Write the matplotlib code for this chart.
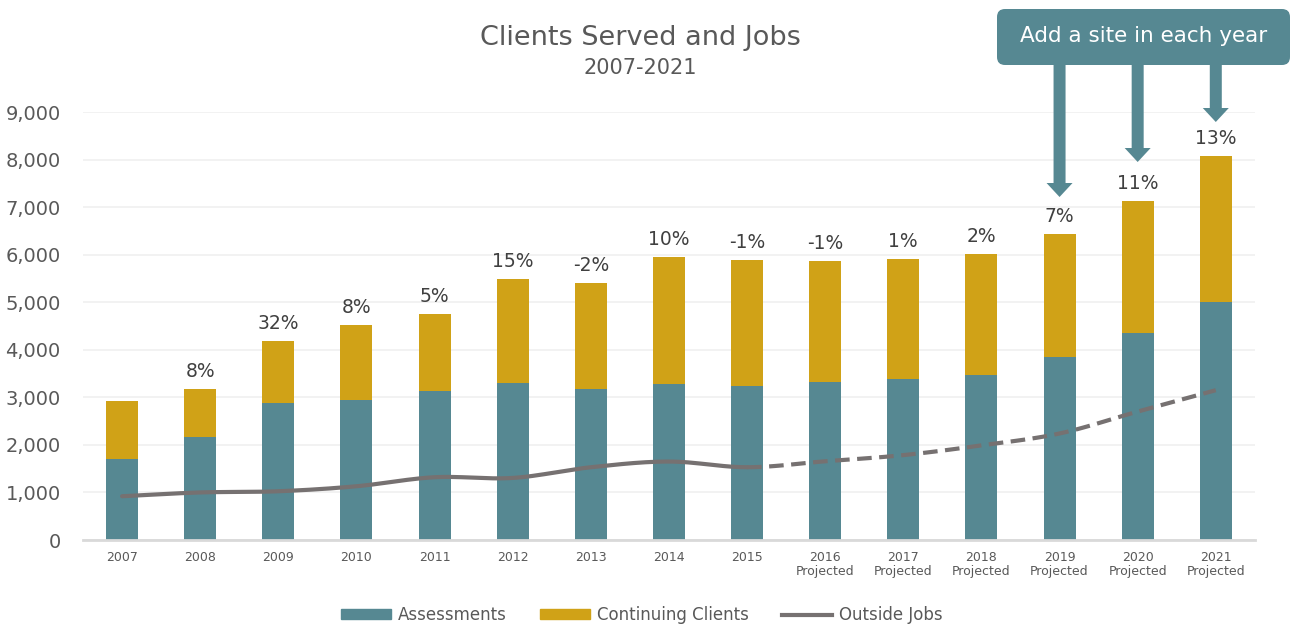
import numpy as np
import matplotlib
matplotlib.use("Agg")
import matplotlib.pyplot as plt
from matplotlib.patches import FancyBboxPatch, FancyArrow
from matplotlib.lines import Line2D
from matplotlib.patches import Patch

plt.rcParams['font.family'] = ['DejaVu Sans']

years = ['2007', '2008', '2009', '2010', '2011', '2012', '2013', '2014', '2015',
         '2016\nProjected', '2017\nProjected', '2018\nProjected', '2019\nProjected',
         '2020\nProjected', '2021\nProjected']
assessments = [1700, 2165, 2880, 2945, 3135, 3300, 3175, 3280, 3240, 3320, 3385, 3470, 3850, 4350, 5005]
totals = [2925, 3175, 4185, 4520, 4750, 5490, 5405, 5950, 5890, 5865, 5910, 6015, 6435, 7130, 8075]
continuing = [t - a for t, a in zip(totals, assessments)]
outside_jobs = [920, 1000, 1025, 1130, 1320, 1305, 1530, 1650, 1530, 1655, 1785, 1990, 2240, 2700, 3150]
pct_labels = ['', '8%', '32%', '8%', '5%', '15%', '-2%', '10%', '-1%', '-1%', '1%', '2%', '7%', '11%', '13%']
last_actual = 8  # index of 2015

teal = '#568892'
gold = '#D0A217'
grey_line = '#767171'
txt = '#595959'

def smooth(xs, ys, n=20):
    # catmull-rom, only for drawing the line smoothly like excel does
    xs = np.asarray(xs, float); ys = np.asarray(ys, float)
    px = np.concatenate([[2 * xs[0] - xs[1]], xs, [2 * xs[-1] - xs[-2]]])
    py = np.concatenate([[2 * ys[0] - ys[1]], ys, [2 * ys[-1] - ys[-2]]])
    ox, oy = [], []
    for i in range(1, len(px) - 2):
        t = np.linspace(0, 1, n, endpoint=False)
        for p, o in ((px, ox), (py, oy)):
            p0, p1, p2, p3 = p[i - 1], p[i], p[i + 1], p[i + 2]
            o.extend(0.5 * (2 * p1 + (-p0 + p2) * t + (2 * p0 - 5 * p1 + 4 * p2 - p3) * t ** 2
                            + (-p0 + 3 * p1 - 3 * p2 + p3) * t ** 3))
    ox.append(xs[-1]); oy.append(ys[-1])
    return np.array(ox), np.array(oy)

fig = plt.figure(figsize=(12.91, 6.25), dpi=100)
ax = fig.add_axes([0.0643, 0.136, 0.9077, 0.6848])

x = np.arange(len(years))
w = 0.41
ax.bar(x, assessments, w, color=teal, zorder=2)
ax.bar(x, continuing, w, bottom=assessments, color=gold, zorder=2)

sx, sy = smooth(x, outside_jobs)
split = np.searchsorted(sx, last_actual)
ax.plot(sx[:split + 1], sy[:split + 1], color=grey_line, lw=3, solid_capstyle='round', zorder=3)
ax.plot(sx[split:], sy[split:], color=grey_line, lw=3, ls=(0, (3.5, 1.8)), zorder=3)

for xi, t, lab in zip(x, totals, pct_labels):
    if lab:
        ax.annotate(lab, (xi, t), xytext=(0, 6), textcoords='offset points',
                    ha='center', va='bottom', fontsize=13.5, color='#404040')

ax.set_xlim(-0.5, len(years) - 0.5)
ax.set_ylim(0, 9000)
ax.set_yticks(np.arange(0, 9001, 1000))
ax.set_yticklabels(['{:,}'.format(v) for v in range(0, 9001, 1000)])
ax.set_xticks(x)
ax.set_xticklabels(years, fontsize=9, color=txt, linespacing=1.1)
ax.tick_params(axis='y', length=0, labelsize=14, labelcolor=txt, pad=16)
ax.tick_params(axis='x', length=0, pad=8)
ax.grid(axis='y', color='#F0F0F0', lw=1.2, zorder=0)
ax.set_axisbelow(True)
for s in ['top', 'right', 'left']:
    ax.spines[s].set_visible(False)
ax.spines['bottom'].set_color('#D9D9D9')
ax.spines['bottom'].set_linewidth(2)

fig.text(0.496, 0.939, 'Clients Served and Jobs', ha='center', va='center', fontsize=19.5, color=txt)
fig.text(0.496, 0.891, '2007-2021', ha='center', va='center', fontsize=15, color=txt)

handles = [Patch(color=teal), Patch(color=gold), Line2D([], [], color=grey_line, lw=3)]
fig.legend(handles, ['Assessments', 'Continuing Clients', 'Outside Jobs'], loc='center',
           bbox_to_anchor=(0.497, 0.016), ncol=3, frameon=False, fontsize=12,
           handlelength=3.0, handleheight=0.5, columnspacing=2.0, handletextpad=0.4,
           labelcolor=txt)

# callout box + arrows (pixel coordinates, origin bottom-left)
H = 625
box = FancyBboxPatch((997, H - 65), 293, 56, boxstyle='round,pad=0,rounding_size=8',
                     transform=None, facecolor=teal, edgecolor='none', zorder=5)
fig.patches.append(box)
fig.text(1143.5 / 1291, (H - 36) / H, 'Add a site in each year', ha='center', va='center',
         fontsize=15.5, color='white', zorder=6)
for xi, tip in zip([12, 13, 14], [197, 162, 122]):
    px = ax.transData.transform((xi, 0))[0]
    top = H - 65
    length = top - (H - tip)
    arr = FancyArrow(px, top, 0, -length, width=12, head_width=26, head_length=14,
                     length_includes_head=True, transform=None, color=teal, lw=0, zorder=5)
    fig.patches.append(arr)

fig.savefig('out.png', dpi=100)
